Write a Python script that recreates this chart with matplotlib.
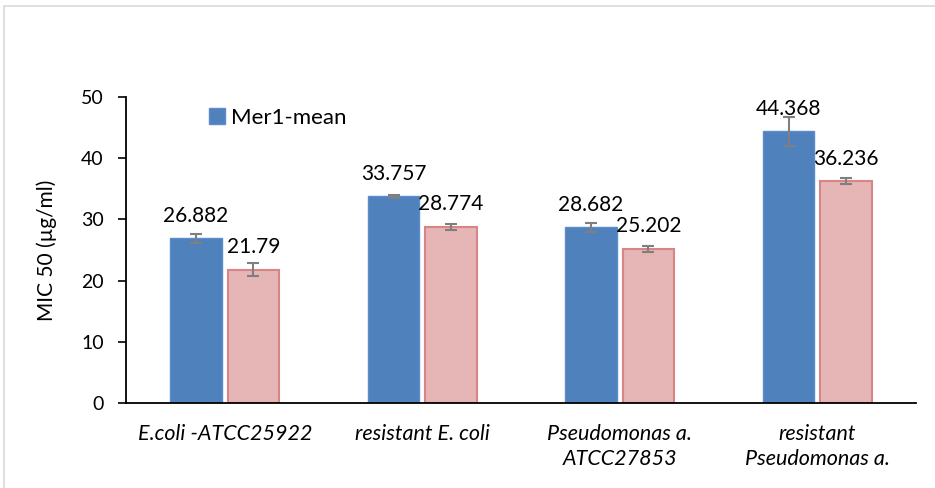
import numpy as np
import matplotlib.pyplot as plt
from matplotlib.patches import Rectangle

categories = ["E.coli -ATCC25922", "resistant E. coli",
              "Pseudomonas a.\nATCC27853", "resistant\nPseudomonas a."]
mer1_mean = [26.882, 33.757, 28.682, 44.368]
mer1_err = [0.75, 0.25, 0.7, 2.3]
second_mean = [21.79, 28.774, 25.202, 36.236]
second_err = [1.05, 0.45, 0.45, 0.5]

plt.rcParams['font.family'] = ['Lato', 'DejaVu Sans']

fig = plt.figure(figsize=(9.35, 4.88), dpi=100)
# light grey chart frame (runs off the right and bottom edge)
fig.patches.append(Rectangle((4 / 935, -0.1), 1.1, 1 - 6 / 488 + 0.1,
                             transform=fig.transFigure, fill=False,
                             edgecolor='#d9d9d9', linewidth=1.2))
ax = fig.add_axes([126 / 935, 1 - 403 / 488, 790 / 935, 306 / 488])

x = np.arange(len(categories))
width = 0.26
off = 0.145
err_kw = dict(ecolor='#7f7f7f', elinewidth=1.5, capsize=4, capthick=1.5)
b1 = ax.bar(x - off, mer1_mean, width, yerr=mer1_err, color='#4f81bd',
            edgecolor='#5b8ccb', linewidth=1, label='Mer1-mean',
            error_kw=err_kw, zorder=2)
b2 = ax.bar(x + off, second_mean, width, yerr=second_err, color='#e6b5b5',
            edgecolor='#d98585', linewidth=1.5, error_kw=err_kw, zorder=2)

for bars, vals in [(b1, mer1_mean), (b2, second_mean)]:
    for rect, v in zip(bars, vals):
        ax.annotate(f"{v:g}", (rect.get_x() + rect.get_width() / 2, v),
                    xytext=(0, 9), textcoords='offset points',
                    ha='center', va='bottom', fontsize=15)

ax.set_xlim(-0.5, 3.5)
ax.set_ylim(0, 50)
ax.set_yticks(range(0, 51, 10))
ax.set_xticks(x)
ax.set_xticklabels(categories, style='italic', fontsize=15.5,
                   linespacing=1.3)
ax.tick_params(axis='y', labelsize=14, length=6, width=1.2, pad=10)
ax.tick_params(axis='x', length=0, pad=15)
ax.set_ylabel("MIC 50 (µg/ml)", fontsize=15, labelpad=17)
for s in ['top', 'right']:
    ax.spines[s].set_visible(False)
for s in ['left', 'bottom']:
    ax.spines[s].set_linewidth(1.3)

ax.legend(handles=[b1], loc='upper left', bbox_to_anchor=(0.08, 1.03),
          frameon=False, fontsize=16, handlelength=0.7, handleheight=0.7,
          handletextpad=0.3)

fig.savefig("out.png", dpi=100)
